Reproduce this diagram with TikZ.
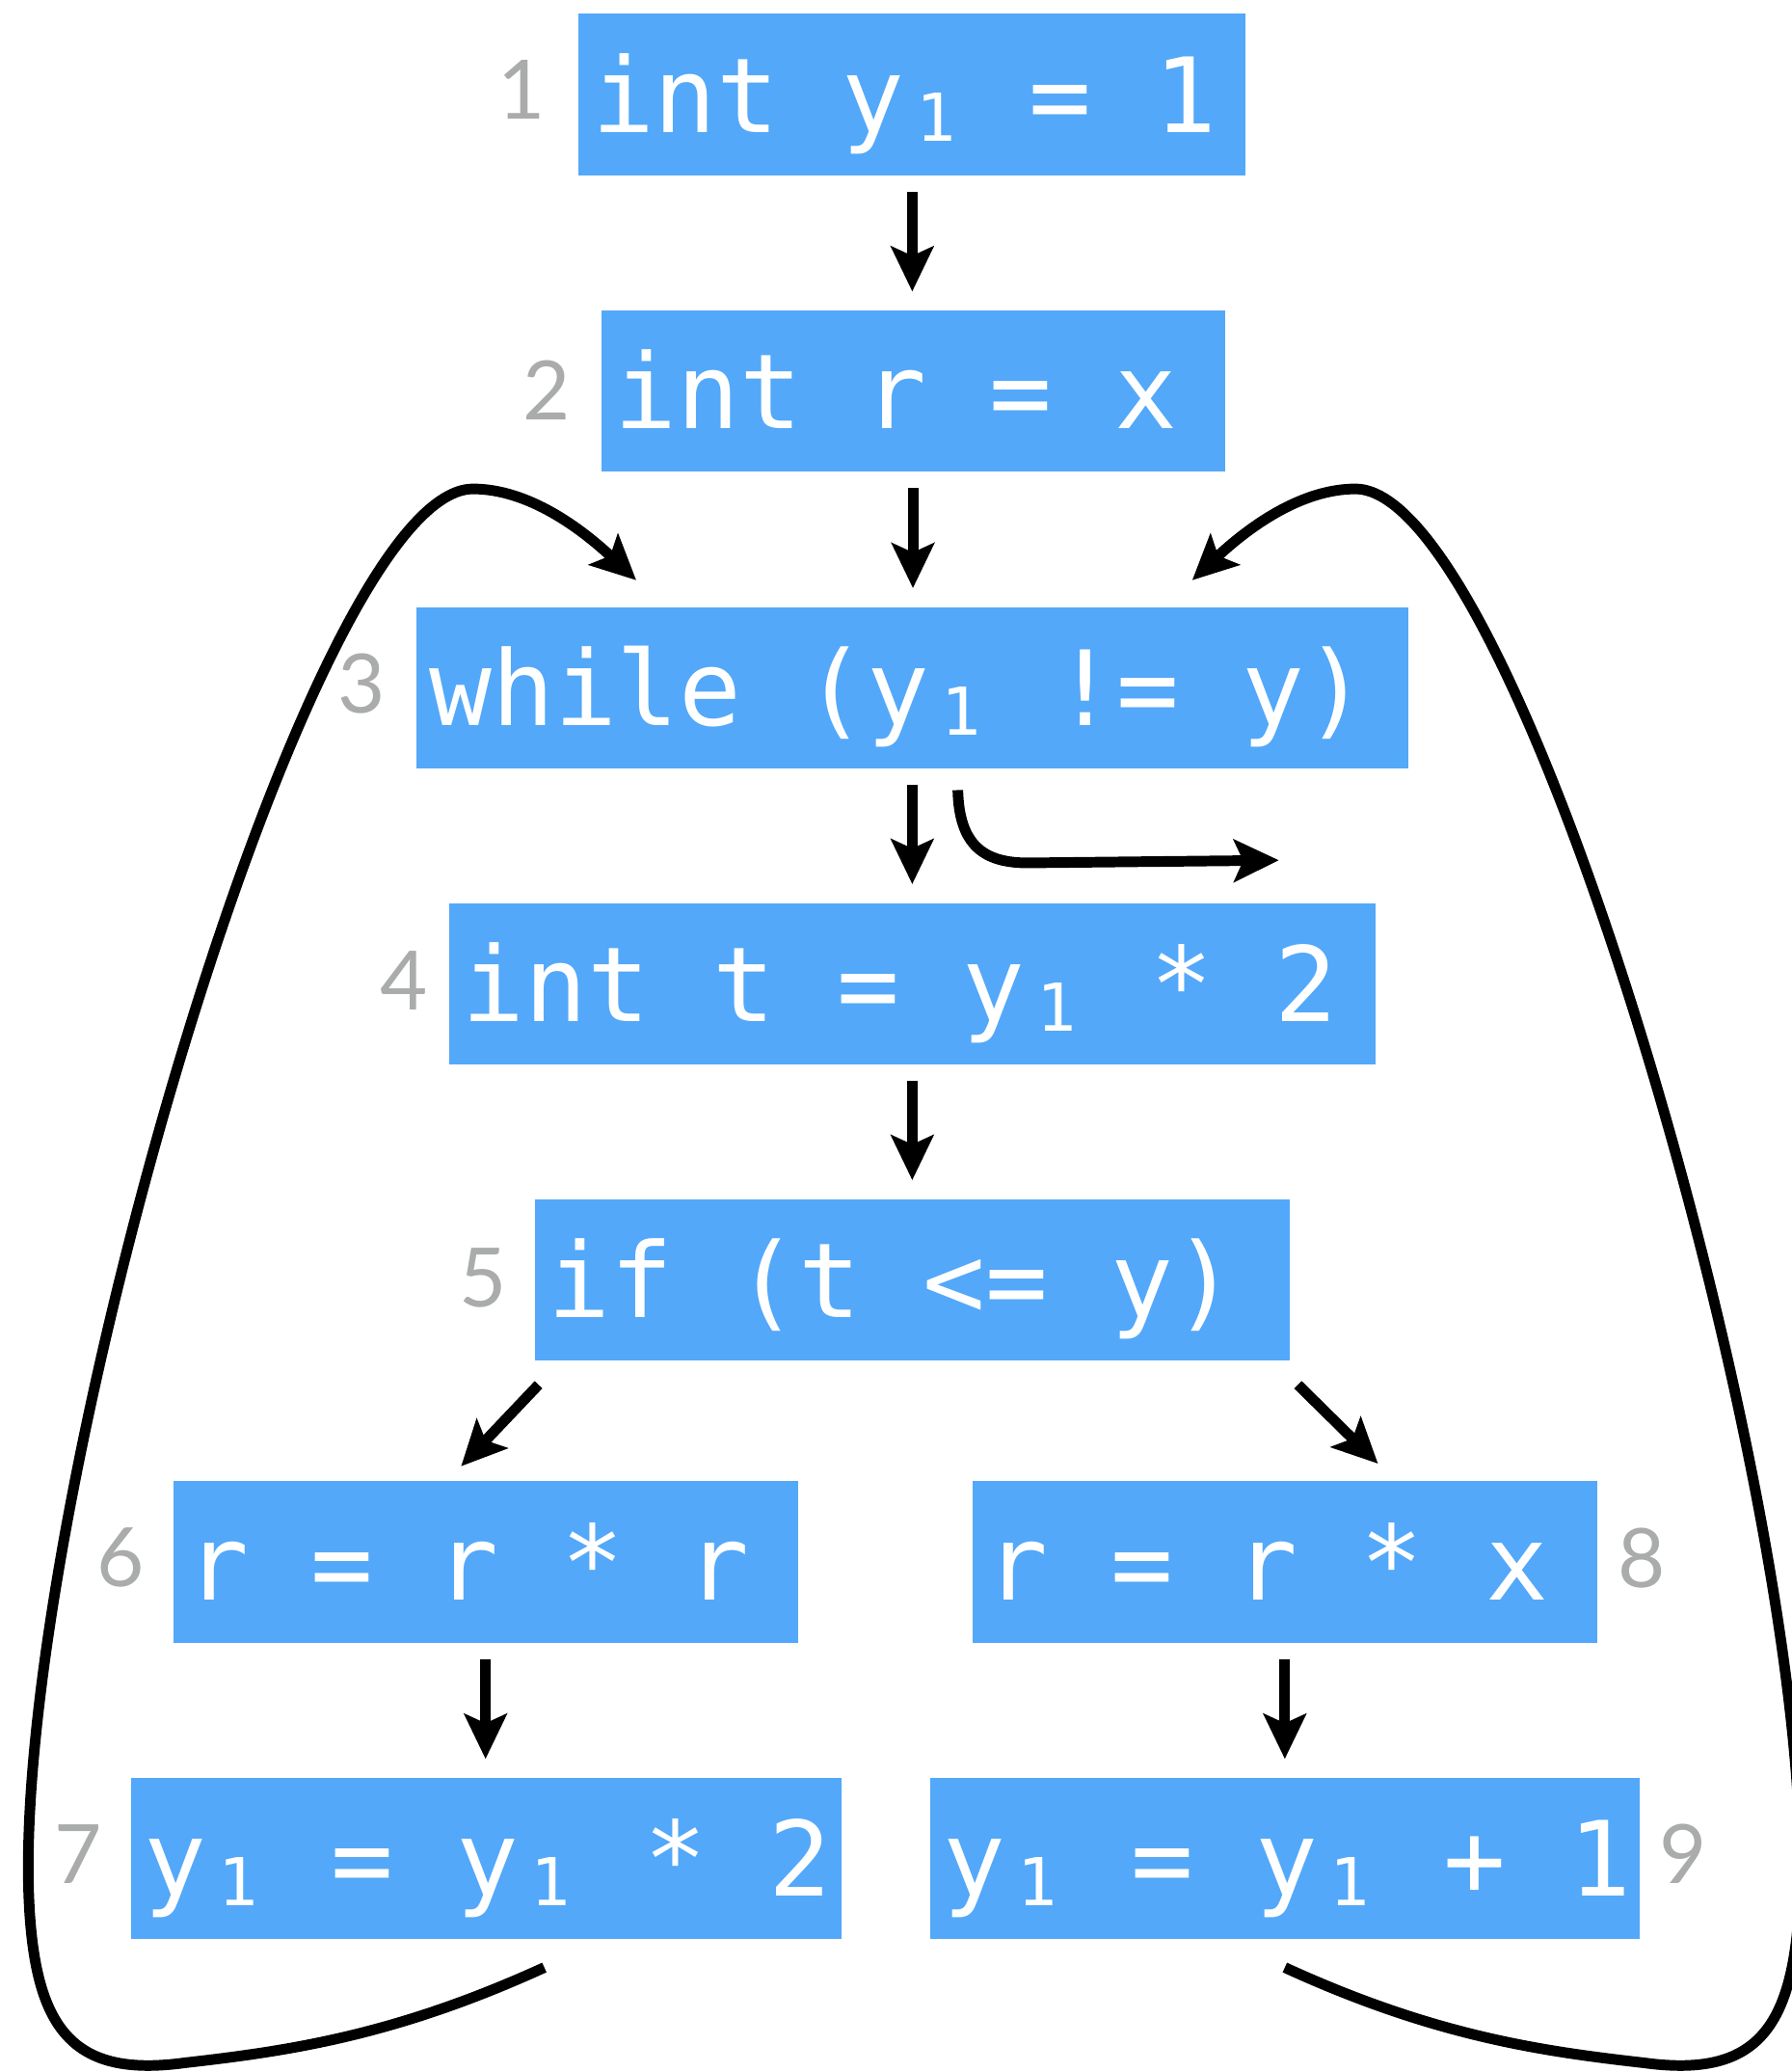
\documentclass[tikz,border=0pt]{standalone}
\usepackage{fontspec}
\usetikzlibrary{arrows.meta,calc}
\newfontfamily\codefont{DejaVu Sans Mono}
\newfontfamily\numfont{Lato}
\definecolor{cblue}{HTML}{53A8F9}
\definecolor{lgray}{HTML}{A9ACAA}
\newcommand\sone{\makebox[23.66pt][c]{\raisebox{-3.6pt}{\fontsize{25pt}{25pt}\selectfont 1}}}
\newcommand\codeline[2]{\makebox[#1][l]{#2}}
\begin{document}
\begin{tikzpicture}[x=0.5pt,y=-0.5pt,
  codebox/.style={fill=cblue,text=white,font=\codefont\fontsize{39.3pt}{39.3pt}\selectfont,
    inner ysep=0pt,inner xsep=5pt,minimum height=61pt,text height=44.75pt,text depth=16.25pt},
  lnum/.style={text=lgray,font=\numfont\fontsize{31pt}{31pt}\selectfont,inner sep=0pt},
  headtip/.style={-{Stealth[length=17pt,width=16pt,inset=3.5pt]}},
  flow/.style={line width=4pt,headtip,shorten <=6pt,shorten >=7pt},
  diagarrow/.style={line width=4pt,headtip},
  loopline/.style={line width=4pt,line join=round}]
\useasboundingbox (0,0) rectangle (1356,1568);

% boxes
\node[codebox] (B1) at (690.5,71.5)  {\codeline{242.5pt}{int y\sone{} = 1}};
\node[codebox] (B2) at (691,296)     {\codeline{226pt}{int r = x}};
\node[codebox] (B3) at (690.5,520.5) {\codeline{365.5pt}{while (y\sone{} != y)}};
\node[codebox] (B4) at (690.5,744.5) {\codeline{340.5pt}{int t = y\sone{} * 2}};
\node[codebox] (B5) at (690.5,968.5) {\codeline{275.5pt}{if (t <= y)}};
\node[codebox] (B6) at (367.5,1182)  {\codeline{226.5pt}{r = r * r}};
\node[codebox] (B8) at (972.5,1182)  {\codeline{226.5pt}{r = r * x}};
\node[codebox] (B7) at (368,1406.5)  {\codeline{259pt}{y\sone{} = y\sone{} * 2}};
\node[codebox] (B9) at (972.5,1406.5) {\codeline{258.5pt}{y\sone{} = y\sone{} + 1}};

% line numbers
\node[lnum] (N1) at (395,68)    {1};
\node[lnum] (N2) at (414,295)   {2};
\node[lnum] (N3) at (274,517)   {3};
\node[lnum] (N4) at (306,742)   {4};
\node[lnum] (N5) at (366,967)   {5};
\node[lnum] (N6) at (91,1179)   {6};
\node[lnum] (N7) at (59,1403)   {7};
\node[lnum] (N8) at (1243,1179) {8};
\node[lnum] (N9) at (1274,1403) {9};

% straight flow
\draw[flow] (B1.south) -- (B1.south |- B2.north);
\draw[flow] (B2.south) -- (B2.south |- B3.north);
\draw[flow] (B3.south) -- (B3.south |- B4.north);
\draw[flow] (B4.south) -- (B4.south |- B5.north);
\draw[flow] (B6.south) -- (B6.south |- B7.north);
\draw[flow] (B8.south) -- (B8.south |- B9.north);

% branches of the if
\draw[diagarrow] ($(B5.south west)+(3,18)$) -- ($(B6.north)+(-18.5,-11)$);
\draw[diagarrow] ($(B5.south east)+(6,18)$) -- ($(B8.north)+(70.5,-13)$);

% exit of the while
\coordinate (X0) at ($(B3.south)+(34.5,16)$);
\coordinate (XE) at (968,651);
\draw[diagarrow] (X0) .. controls (726,640) and (745,653) .. (778,653) -- (XE);

% back edges
\coordinate (L0) at ($(B7.south)+(44,21)$);
\coordinate (L1) at ($(B3.north west)+(167,-20)$);
\draw[loopline,headtip] (L0) .. controls (300,1540) and (220,1552) .. (140,1561)
  .. controls (60,1572) and (30,1540) .. (23,1455)
  .. controls (0,1180) and (230,370) .. (358,370)
  .. controls (400,370) and (440,400) .. (L1);

\coordinate (R0) at ($(B9.south)+(0,21)$);
\coordinate (R1) at ($(B3.north east)+(-164,-20)$);
\draw[loopline,headtip] (R0) .. controls (1084,1540) and (1164,1552) .. (1244,1561)
  .. controls (1324,1572) and (1354,1540) .. (1361,1455)
  .. controls (1384,1180) and (1154,370) .. (1026,370)
  .. controls (984,370) and (944,400) .. (R1);
\end{tikzpicture}
\end{document}
